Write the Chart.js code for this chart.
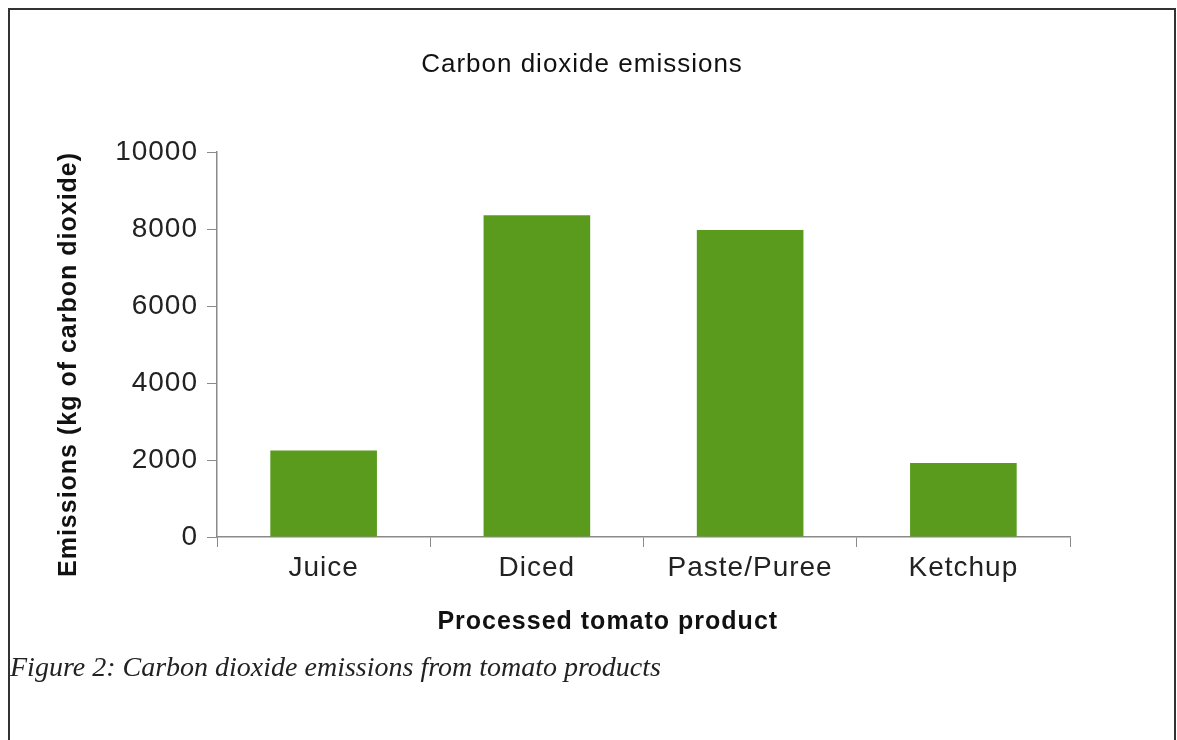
<!DOCTYPE html>
<html>
<head>
<meta charset="utf-8">
<script src="https://cdn.jsdelivr.net/npm/chart.js@4"></script>
<style>
  body{ margin:0; background:#fff; width:1177px; height:740px; overflow:hidden; position:relative; }
  #frame{ position:absolute; left:8px; top:8px; width:1168px; height:760px; border:2px solid #333; box-sizing:border-box; }
  #wrap{ position:absolute; left:0; top:0; width:1177px; height:740px; }
  #caption{ position:absolute; left:10px; top:651px; font-family:"Liberation Serif", serif; font-style:italic; font-size:28px; color:#222; white-space:nowrap; }
</style>
</head>
<body>
<div id="frame"></div>
<div id="wrap"><canvas id="chart"></canvas></div>
<div id="caption">Figure 2: Carbon dioxide emissions from tomato products</div>
<script>
// data
const products = ['Juice', 'Diced', 'Paste/Puree', 'Ketchup'];
const emissions = [2250, 8360, 7980, 1920];
const yTicks = [0, 2000, 4000, 6000, 8000, 10000];

const chartTitle = 'Carbon dioxide emissions';
const xTitle = 'Processed tomato product';
const yTitle = 'Emissions (kg of carbon dioxide)';

const green = '#5a9b1e';
const axisGrey = '#8a8a8a';
const sans = '"Liberation Sans", Arial, sans-serif';
const nbsp = n => '\u00a0'.repeat(n);   // nudges axis titles off-centre like the original

// slight letter spacing, the original text is a bit wide
const spacing = {
  id: 'spacing',
  beforeDraw(chart){ chart.ctx.letterSpacing = '1px'; }
};

const ctx = document.getElementById('chart').getContext('2d');
new Chart(ctx, {
  type: 'bar',
  data: {
    labels: products,
    datasets: [{ data: emissions, backgroundColor: green, borderWidth: 0,
      categoryPercentage: 0.5, barPercentage: 1 }]
  },
  plugins: [spacing],
  options: {
    animation: false,
    responsive: true,
    maintainAspectRatio: false,
    layout: { padding: { left: 94, right: 107, top: 10, bottom: 103 } },
    plugins: {
      legend: { display: false },
      tooltip: { enabled: false },
      title: {
        display: true, text: chartTitle, color: '#111',
        font: { family: sans, size: 26, weight: 'normal' },
        padding: { top: 39, bottom: 72 }
      }
    },
    scales: {
      x: {
        afterFit: s => { s.height = 100; },
        grid: { display: true, offset: true, drawOnChartArea: false, drawTicks: true, tickLength: 10, color: axisGrey },
        border: { display: true, color: axisGrey, width: 1.5 },
        ticks: { color: '#222', font: { family: sans, size: 28 }, padding: 4, maxRotation: 0 },
        title: { display: true, text: xTitle + nbsp(9), color: '#111', font: { family: sans, size: 25, weight: 'bold' }, padding: { top: 0, bottom: 0 } }
      },
      y: {
        min: 0, max: 10000,
        afterFit: s => { s.width = 123; },
        afterBuildTicks: s => { s.ticks = yTicks.map(v => ({ value: v })); },
        grid: { display: true, drawOnChartArea: false, drawTicks: true, tickLength: 10, color: axisGrey },
        border: { display: true, color: axisGrey, width: 1.5 },
        ticks: { color: '#222', font: { family: sans, size: 28 }, padding: 9, callback: v => String(v) },
        title: { display: true, text: yTitle + nbsp(5), color: '#111', font: { family: sans, size: 25, weight: 'bold' }, padding: { top: -40, bottom: 0 } }
      }
    }
  }
});
</script>
</body>
</html>
